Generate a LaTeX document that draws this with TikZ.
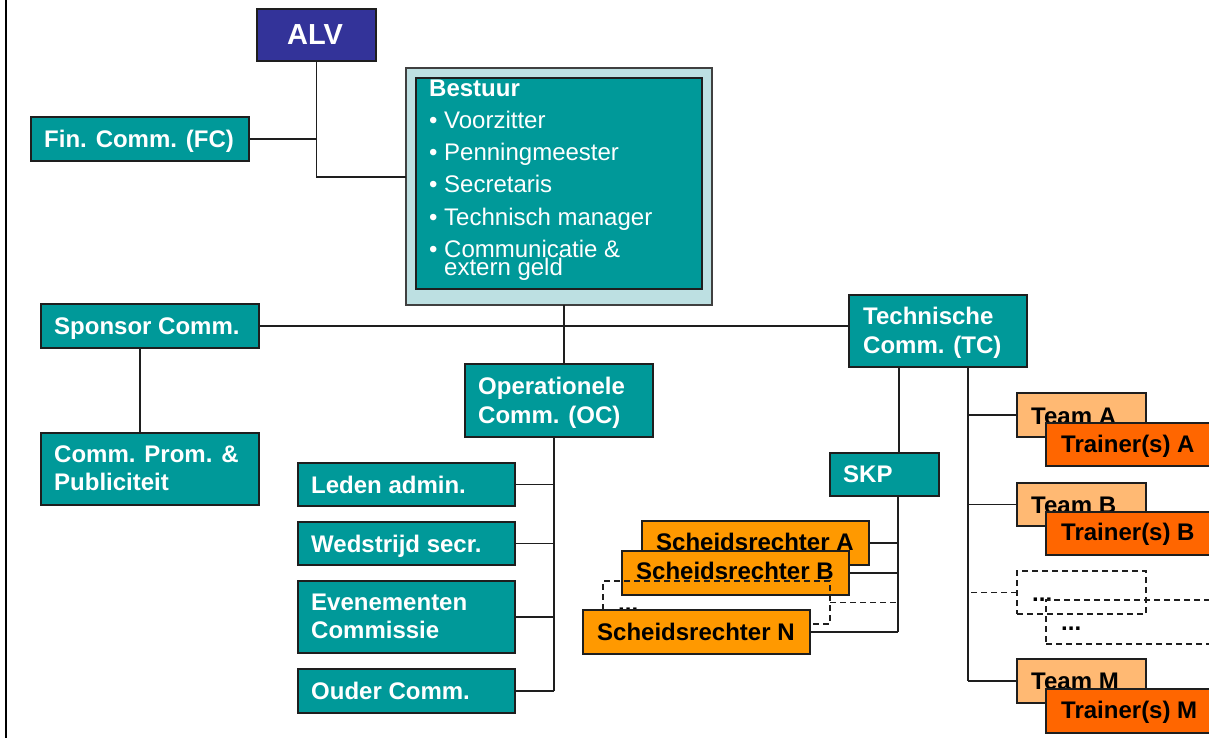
\documentclass[tikz,border=0pt]{standalone}
\usepackage{fontspec}
\setmainfont{Liberation Sans}
\definecolor{tealc}{RGB}{0,153,153}
\definecolor{alvc}{RGB}{51,51,153}
\definecolor{bestc}{RGB}{189,224,226}
\definecolor{schc}{RGB}{255,153,0}
\definecolor{teamc}{RGB}{255,185,115}
\definecolor{trnc}{RGB}{255,102,0}
\definecolor{linec}{RGB}{30,30,30}
\begin{document}
\begin{tikzpicture}[x=1pt,y=-1pt,
  bx/.style={draw=linec, line width=1.8pt, inner sep=0pt, outer sep=0pt, anchor=north west},
  tealbox/.style={bx, fill=tealc},
  schbox/.style={bx, fill=schc},
  teambox/.style={bx, fill=teamc},
  trnbox/.style={bx, fill=trnc},
  dbox/.style={bx, line width=1.5pt, dash pattern=on 6pt off 4pt},
  conn/.style={draw=linec, line width=1.9pt},
  dconn/.style={conn, line width=1.5pt, dash pattern=on 6pt off 4pt},
  wt/.style={anchor=base west, inner sep=0pt, text=white, font=\bfseries\fontsize{24}{28}\selectfont},
  kt/.style={wt, text=black},
  rt/.style={anchor=base west, inner sep=0pt, text=white, font=\fontsize{24}{28}\selectfont},
]
\clip (0,0) rectangle (1209,738);
\fill[white] (0,0) rectangle (1209,738);
\draw[line width=2pt, draw=black] (6,0) -- (6,738);

% ---------- boxes ----------
\node[bx, fill=alvc, minimum width=119pt, minimum height=52pt] (alv) at (257,9) {};
\node[tealbox, minimum width=218pt, minimum height=44pt] (fc) at (31,117) {};
\node[bx, fill=bestc, draw=black!75, line width=1.5pt, minimum width=306pt, minimum height=237pt] (bestO) at (406,68) {};
\node[tealbox, minimum width=286pt, minimum height=211pt] (bestI) at (416,78) {};
\node[tealbox, minimum width=218pt, minimum height=44pt] (spon) at (41,304) {};
\node[tealbox, minimum width=218pt, minimum height=72pt] (prom) at (41,433) {};
\node[tealbox, minimum width=188pt, minimum height=73pt] (oc) at (465,364) {};
\node[tealbox, minimum width=217pt, minimum height=43pt] (leden) at (298,463) {};
\node[tealbox, minimum width=217pt, minimum height=43pt] (wed) at (298,522) {};
\node[tealbox, minimum width=217pt, minimum height=72pt] (even) at (298,581) {};
\node[tealbox, minimum width=217pt, minimum height=44pt] (ouder) at (298,669) {};
\node[tealbox, minimum width=178pt, minimum height=72pt] (tc) at (849,295) {};
\node[tealbox, minimum width=109pt, minimum height=43pt] (skp) at (830,453) {};

% ---------- connectors ----------
\coordinate (cBest) at (564,0);
\coordinate (cSpon) at (140,0);
\coordinate (cOC) at (554,0);
\coordinate (cTC) at (899,0);
\coordinate (cSKP) at (898,0);
\coordinate (cTeam) at (968,0);
\draw[conn] (alv.south) |- ([yshift=9.5pt]bestO.west);
\draw[conn] (fc.east) -- (fc.east -| alv.south);
\draw[conn] (spon.east) -- (spon.east -| tc.west);
\draw[conn] (bestO.south -| cBest) -- (oc.north -| cBest);
\draw[conn] (spon.south -| cSpon) -- (prom.north -| cSpon);
\draw[conn] (oc.south -| cOC) -- (ouder.east -| cOC);
\draw[conn] (leden.east) -- (leden.east -| cOC);
\draw[conn] (wed.east) -- (wed.east -| cOC);
\draw[conn] (even.east) -- (even.east -| cOC);
\draw[conn] (ouder.east) -- (ouder.east -| cOC);
\draw[conn] (tc.south -| cTC) -- (skp.north -| cTC);

% ---------- Scheidsrechters ----------
\node[schbox, minimum width=227pt, minimum height=44pt] (schA) at (642,521) {};
\node[kt] (tschA) at (656,550) {Scheidsrechter A};
\node[schbox, minimum width=227pt, minimum height=44pt] (schB) at (622,551) {};
\node[kt] (tschB) at (636,579) {Scheidsrechter B};
\node[dbox, minimum width=227pt, minimum height=43pt] (schD) at (603,581) {};
\node[kt] (tschD) at (618,611) {...};
\node[schbox, minimum width=227pt, minimum height=44pt] (schN) at (583,610) {};
\node[kt] (tschN) at (597,640) {Scheidsrechter N};
\draw[conn] (skp.south -| cSKP) -- (schN.east -| cSKP);
\draw[conn] (schA.east) -- (schA.east -| cSKP);
\draw[conn] (schB.east) -- (schB.east -| cSKP);
\draw[dconn] (schD.east) -- (schD.east -| cSKP);
\draw[conn] (schN.east) -- (schN.east -| cSKP);

% ---------- Teams ----------
\node[teambox, minimum width=129pt, minimum height=44pt] (teamA) at (1017,393) {};
\node[kt] (tteamA) at (1031,424) {Team A};
\node[trnbox, minimum width=190pt, minimum height=43pt] (trA) at (1046,423) {};
\node[kt] (ttrA) at (1061,452) {Trainer(s) A};
\node[teambox, minimum width=129pt, minimum height=43pt] (teamB) at (1017,483) {};
\node[kt] (tteamB) at (1031,513) {Team B};
\node[trnbox, minimum width=190pt, minimum height=43pt] (trB) at (1046,512) {};
\node[kt] (ttrB) at (1061,540) {Trainer(s) B};
\node[dbox, minimum width=129pt, minimum height=43pt] (tD1) at (1017,571) {};
\node[kt] (ttD1) at (1032,601) {...};
\node[dbox, minimum width=190pt, minimum height=44pt] (tD2) at (1046,600) {};
\node[kt] (ttD2) at (1061,630) {...};
\node[teambox, minimum width=129pt, minimum height=44pt] (teamM) at (1017,659) {};
\node[kt] (tteamM) at (1031,689) {Team M};
\node[trnbox, minimum width=190pt, minimum height=44pt] (trM) at (1046,689) {};
\node[kt] (ttrM) at (1061,718) {Trainer(s) M};
\draw[conn] (tc.south -| cTeam) -- (teamM.west -| cTeam);
\draw[conn] (teamA.west) -- (teamA.west -| cTeam);
\draw[conn] (teamB.west) -- (teamB.west -| cTeam);
\draw[dconn] (tD1.west) -- (tD1.west -| cTeam);
\draw[conn] (teamM.west) -- (teamM.west -| cTeam);

% ---------- texts ----------
\node[wt, font=\bfseries\fontsize{29}{32}\selectfont] (talv) at (287,45) {ALV};
\node[wt] (tfc) at (44,148) {Fin. Comm. (FC)};
\node[wt] (tbest) at (429,97) {Bestuur};
\node[rt] (b1) at (429,129) {•};
\node[rt] (i1) at (444,129) {Voorzitter};
\node[rt] (b2) at (429,161) {•};
\node[rt] (i2) at (444,161) {Penningmeester};
\node[rt] (b3) at (429,193) {•};
\node[rt] (i3) at (444,193) {Secretaris};
\node[rt] (b4) at (429,225) {•};
\node[rt] (i4) at (444,225) {Technisch manager};
\node[rt] (b5) at (429,257) {•};
\node[rt] (i5) at (444,257) {Communicatie \&};
\node[rt] (i6) at (444,275) {extern geld};
\node[wt] (tspon) at (54,334) {Sponsor Comm.};
\node[wt] (tprom1) at (54,462) {Comm. Prom. \&};
\node[wt] (tprom2) at (54,490) {Publiciteit};
\node[wt] (toc1) at (478,394) {Operationele};
\node[wt] (toc2) at (478,423) {Comm. (OC)};
\node[wt] (tleden) at (311,493) {Leden admin.};
\node[wt] (twed) at (311,552) {Wedstrijd secr.};
\node[wt] (teven1) at (311,610) {Evenementen};
\node[wt] (teven2) at (311,638) {Commissie};
\node[wt] (touder) at (311,699) {Ouder Comm.};
\node[wt] (ttc1) at (863,324) {Technische};
\node[wt] (ttc2) at (863,353) {Comm. (TC)};
\node[wt] (tskp) at (843,482) {SKP};
\end{tikzpicture}
\end{document}
